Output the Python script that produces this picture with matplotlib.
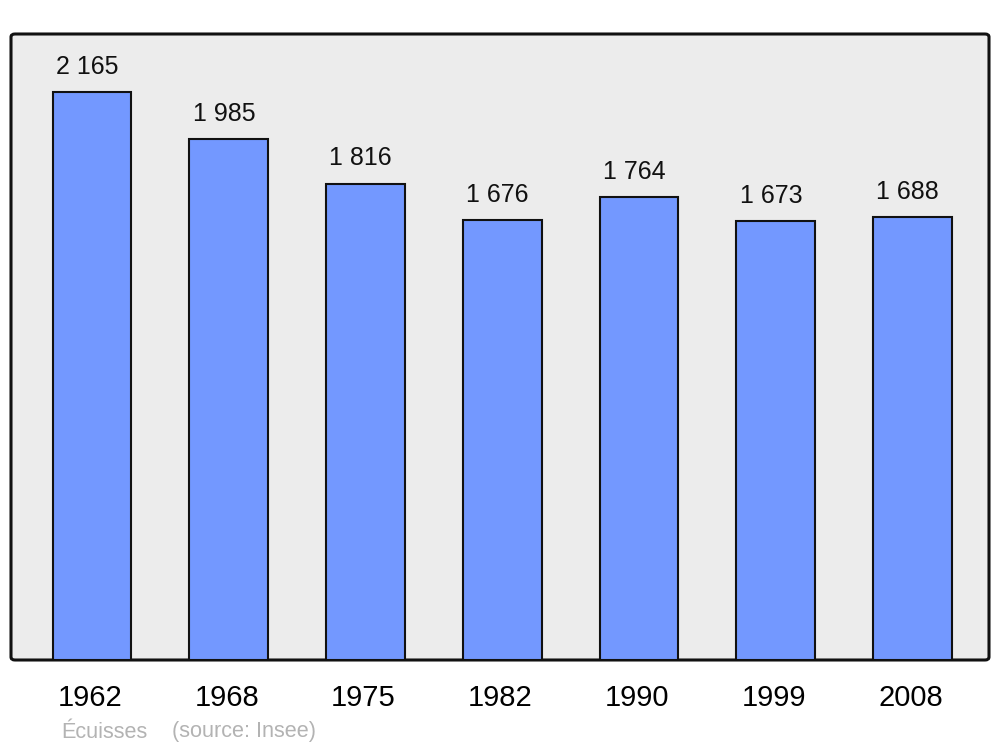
import matplotlib.pyplot as plt
from matplotlib.patches import FancyBboxPatch

plt.rcParams["font.family"] = ["Liberation Sans", "DejaVu Sans"]

years = ["1962", "1968", "1975", "1982", "1990", "1999", "2008"]
population = [2165, 1985, 1816, 1676, 1764, 1673, 1688]
value_labels = ["2 165", "1 985", "1 816", "1 676", "1 764", "1 673", "1 688"]

W, H = 1000, 747
fig = plt.figure(figsize=(W / 100, H / 100), dpi=100)

# panel: x 11..989, y 34..660 (pixels from top)
left, right, top, bottom = 11, 989, 34, 660
ax = fig.add_axes([left / W, 1 - bottom / H, (right - left) / W, (bottom - top) / H])
ax.set_facecolor("none")
ax.set_zorder(2)

panel = FancyBboxPatch(
    (left / W, 1 - bottom / H), (right - left) / W, (bottom - top) / H,
    boxstyle="round,pad=0,rounding_size=0.004",
    transform=fig.transFigure, facecolor="#ececec", edgecolor="#111111",
    linewidth=2.2, zorder=0,
)
fig.patches.append(panel)

x = range(len(years))
ax.bar(x, population, width=0.575, color="#7398ff", edgecolor="#111111",
       linewidth=1.5, zorder=2)

for i, (v, lab) in enumerate(zip(population, value_labels)):
    ax.text(i - 0.035, v + 97, lab, ha="center", va="center", fontsize=18,
            color="#111111")

ax.set_xlim(-0.593, 6.56)
ax.set_ylim(0, 2386)
ax.set_xticks([i - 0.015 for i in x])
ax.set_xticklabels(years, fontsize=21)
ax.tick_params(axis="x", length=0, pad=17)
ax.set_yticks([])
for s in ax.spines.values():
    s.set_visible(False)

fig.text(61 / W, 1 - 732 / H, "Écuisses", fontsize=15.6, color="#b3b3b3",
         va="center", ha="left")
fig.text(172 / W, 1 - 732 / H, "(source: Insee)", fontsize=15.6, color="#b3b3b3",
         va="center", ha="left")

fig.savefig("out.png", dpi=100)
